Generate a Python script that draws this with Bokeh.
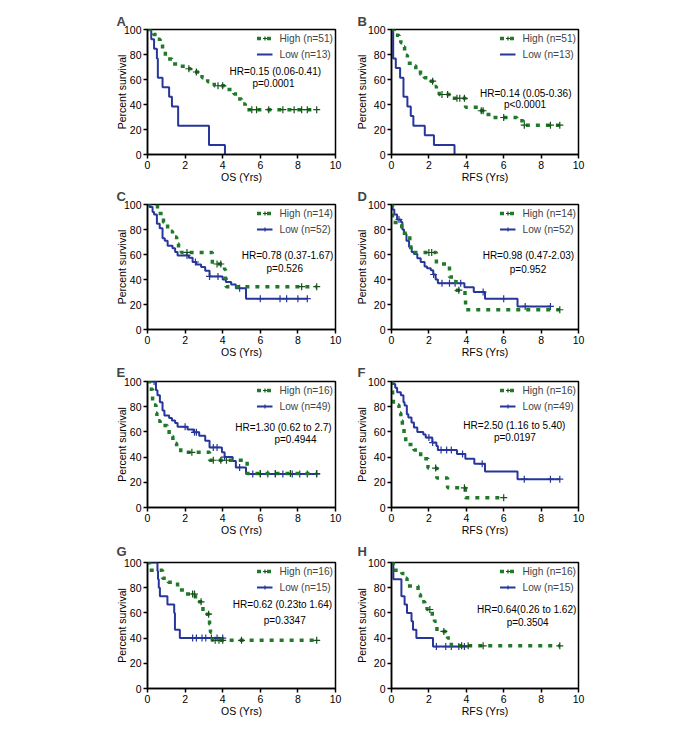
import numpy as np
from bokeh.plotting import figure
from bokeh.models import Range1d, Legend, LegendItem, Label, FixedTicker
from bokeh.layouts import column, row
from bokeh.embed import file_html
from bokeh.resources import INLINE

# ---------------- data ----------------
# Panel A (OS)
A_high_t = [0, 0.32, 0.5, 0.67, 0.8, 0.95, 1.3, 1.75, 2.05, 2.3, 2.9, 3.2, 3.55, 4.1, 4.6, 4.8, 5.0, 5.2]
A_high_s = [100, 96.1, 92.2, 88.2, 82.4, 76.5, 72.5, 70.6, 68.6, 66.0, 61.5, 58.2, 55.0, 52.0, 48.5, 44.5, 40.5, 35.9]
A_high_cens = [2.2, 2.6, 3.75, 4.0, 5.55, 5.8, 6.45, 7.2, 7.8, 8.2, 8.5, 9.0]
A_high_end = 9.0
A_low_t = [0, 0.2, 0.35, 0.5, 0.55, 0.8, 1.15, 1.3, 1.63, 3.27, 4.12]
A_low_s = [100, 92.3, 84.6, 76.9, 61.5, 53.8, 46.2, 38.5, 23.1, 7.7, 0]
A_low_cens = []
A_low_end = 4.12

# Panel B (RFS)
B_high_t = [0, 0.14, 0.4, 0.5, 0.6, 0.7, 0.85, 1.1, 1.3, 1.55, 1.75, 1.95, 2.3, 2.4, 2.55, 3.25, 3.96, 4.7, 5.0, 5.4, 6.7, 7.05]
B_high_s = [100, 95.5, 91.5, 89.4, 86.0, 79.5, 73.0, 71.0, 67.5, 64.0, 61.5, 58.7, 54.5, 50.5, 48.0, 45.0, 37.8, 35.0, 32.0, 29.6, 27.0, 23.5]
B_high_cens = [2.2, 2.7, 3.0, 3.5, 3.65, 3.9, 4.8, 4.9, 6.0, 7.1, 8.5, 9.0]
B_high_end = 9.0
B_low_t = [0, 0.09, 0.23, 0.46, 0.64, 0.85, 1.03, 1.17, 1.78, 2.27, 3.37]
B_low_s = [100, 76.9, 69.2, 61.5, 46.2, 38.5, 30.8, 23.1, 15.4, 7.7, 0]
B_low_cens = []
B_low_end = 3.37

# Panel C (OS)
C_high_t = [0, 0.53, 0.85, 1.07, 1.33, 1.55, 1.65, 1.8, 3.45, 4.1, 4.15, 4.18]
C_high_s = [100, 92.9, 85.7, 78.6, 74.0, 68.6, 64.3, 61.7, 52.4, 48.0, 41.1, 34.3]
C_high_cens = [2.1, 3.7, 3.9, 8.2, 9.0]
C_high_end = 9.0
C_low_t = [0, 0.1, 0.27, 0.35, 0.5, 0.65, 0.8, 0.92, 1.07, 1.33, 1.47, 1.6, 2.2, 2.4, 2.6, 2.85, 3.07, 3.3, 4.0, 4.17, 4.45, 4.7, 5.24]
C_low_s = [100, 98, 94, 92, 84.6, 81, 73, 71, 67, 65, 62, 59.3, 57.4, 54, 52, 50, 47, 42.5, 40, 38, 36, 33, 24.7]
C_low_cens = [2.1, 2.55, 3.3, 3.75, 4.9, 6.0, 7.05, 7.4, 8.0, 8.5]
C_low_end = 8.5

# Panel D (RFS)
D_high_t = [0, 0.05, 0.55, 0.98, 1.03, 2.4, 3.1, 3.45, 3.93, 3.96]
D_high_s = [100, 85.7, 77.0, 69.3, 61.6, 52.4, 42.0, 31.5, 23.3, 15.8]
D_high_cens = [2.0, 2.15, 3.6, 9.0]
D_high_end = 9.0
D_low_t = [0, 0.05, 0.15, 0.3, 0.5, 0.58, 0.67, 0.8, 0.94, 1.08, 1.2, 1.38, 1.56, 1.77, 1.9, 2.1, 2.23, 2.36, 2.48, 3.9, 4.4, 5.0, 6.74]
D_low_s = [100, 96, 92, 88, 86, 80, 76.5, 71, 66, 62, 60.5, 57, 54, 50.5, 49, 47.5, 44, 40, 37, 33.8, 30, 24.6, 18.5]
D_low_cens = [0.4, 2.25, 2.7, 3.1, 3.4, 3.7, 4.9, 6.0, 7.15, 8.5]
D_low_end = 8.5

# Panel E (OS)
E_high_t = [0, 0.1, 0.27, 0.45, 0.5, 0.67, 1.05, 1.15, 1.35, 1.55, 1.77, 3.3, 5.3]
E_high_s = [100, 93.8, 81.3, 75.0, 68.8, 65.0, 62.5, 56.5, 51.0, 47.7, 43.8, 37.5, 27.0]
E_high_cens = [2.36, 3.5, 3.9, 4.2, 6.0, 6.8, 7.6, 9.0]
E_high_end = 9.0
E_low_t = [0, 0.45, 0.53, 0.66, 0.8, 0.9, 1.15, 1.3, 1.47, 1.6, 2.13, 2.45, 2.75, 3.07, 3.3, 3.96, 4.1, 4.53, 4.7, 5.24]
E_low_s = [100, 93, 89, 83.5, 77, 73, 71, 69, 67, 64, 62, 59.7, 57, 53, 47.7, 43.8, 40, 37, 31.8, 26.5]
E_low_cens = [0.35, 2.0, 2.5, 2.6, 3.5, 3.7, 4.1, 4.9, 5.6, 6.0, 6.4, 6.8, 7.2, 7.7, 8.1, 8.5, 9.0]
E_low_end = 9.0

# Panel F (RFS)
F_high_t = [0, 0.03, 0.06, 0.1, 0.4, 0.5, 0.58, 0.67, 0.76, 1.2, 1.56, 1.95, 2.42, 3.0, 3.95]
F_high_s = [100, 93.8, 87.5, 81.3, 75.0, 68.8, 62.5, 56.3, 50.0, 45.6, 38.7, 31.3, 23.4, 15.6, 7.8]
F_high_cens = [2.36, 3.9, 6.0]
F_high_end = 6.0
F_low_t = [0, 0.1, 0.2, 0.3, 0.5, 0.64, 0.7, 0.82, 0.9, 1.07, 1.2, 1.38, 1.7, 1.83, 2.18, 2.4, 2.48, 3.5, 3.95, 4.43, 5.0, 6.74]
F_low_s = [100, 98, 95, 91.5, 89, 83.5, 81, 74, 71.5, 67.5, 63.5, 60, 58, 55.5, 51.5, 48.8, 45.6, 42.5, 38.6, 34.7, 28.6, 22.5]
F_low_cens = [2.0, 2.2, 2.65, 2.95, 3.2, 3.8, 4.85, 7.1, 8.5, 9.0]
F_low_end = 9.0

# Panel G (OS)
G_high_t = [0, 0.1, 0.8, 1.1, 1.6, 1.95, 2.55, 2.95, 3.3, 3.35, 3.45]
G_high_s = [100, 93.8, 87.5, 84.4, 78.1, 75.0, 68.8, 59.0, 51.0, 44.6, 38.2]
G_high_cens = [2.4, 2.5, 2.85, 3.25, 3.6, 3.8, 4.0, 5.0, 9.0]
G_high_end = 9.0
G_low_t = [0, 0.53, 0.56, 0.6, 0.66, 1.06, 1.42, 1.46, 1.72]
G_low_s = [100, 93.3, 86.7, 80.0, 73.3, 66.7, 60.0, 46.7, 40.0]
G_low_cens = [2.4, 2.6, 2.9, 3.1, 3.4, 3.7, 4.0]
G_low_end = 4.05

# Panel H (RFS)
H_high_t = [0, 0.1, 0.55, 0.7, 0.83, 1.42, 1.55, 1.78, 1.9, 2.18, 2.3, 2.43, 3.0, 3.2]
H_high_s = [100, 93.8, 91.2, 87.5, 81.3, 74.7, 68.8, 66.7, 62.7, 57.3, 53.3, 45.3, 40.0, 33.9]
H_high_cens = [2.05, 2.8, 3.75, 4.1, 4.9, 9.0]
H_high_end = 9.0
H_low_t = [0, 0.1, 0.53, 0.7, 0.83, 1.07, 1.15, 1.33, 2.22]
H_low_s = [100, 86.7, 73.3, 66.7, 60.0, 53.3, 46.7, 40.0, 33.3]
H_low_cens = [2.4, 2.9, 3.2, 3.6, 3.9]
H_low_end = 4.05

panel_letters = ["A", "B", "C", "D", "E", "F", "G", "H"]
x_labels = ["OS (Yrs)", "RFS (Yrs)"]
y_label = "Percent survival"
high_labels = ["High (n=51)", "High (n=51)", "High (n=14)", "High (n=14)",
               "High (n=16)", "High (n=16)", "High (n=16)", "High (n=16)"]
low_labels = ["Low (n=13)", "Low (n=13)", "Low (n=52)", "Low (n=52)",
              "Low (n=49)", "Low (n=49)", "Low (n=15)", "Low (n=15)"]
hr_texts = ["HR=0.15 (0.06-0.41)", "HR=0.14 (0.05-0.36)", "HR=0.78 (0.37-1.67)",
            "HR=0.98 (0.47-2.03)", "HR=1.30 (0.62 to 2.7)", "HR=2.50 (1.16 to 5.40)",
            "HR=0.62 (0.23to 1.64)", "HR=0.64(0.26 to 1.62)"]
p_texts = ["p=0.0001", "p<0.0001", "p=0.526", "p=0.952", "p=0.4944", "p=0.0197",
           "p=0.3347", "p=0.3504"]
x_ticks = [0, 2, 4, 6, 8, 10]
y_ticks = [0, 20, 40, 60, 80, 100]

# ---------------- layout / style ----------------
GREEN = "#217a29"
GREEN_DARK = "#17501b"
BLUE = "#27369a"
FONT = "Liberation Sans"
FS = "10.5px"
FS_NOTE = "10px"

# annotation positions (data units): x of HR, y of HR, x of p, y of p
hr_pos = [(6.8, 66.4, 6.7, 56.8), (7.18, 49.2, 7.14, 39.7), (7.45, 59.3, 7.3, 48.7),
          (7.32, 59.5, 7.3, 48.4), (7.23, 63.6, 7.87, 53.6), (6.57, 64.8, 6.6, 55.4),
          (7.18, 66.8, 7.3, 54.1), (7.23, 62.6, 7.28, 52.0)]
# per row: (min_border_top, frame_height, min_border_bottom, title_standoff)
row_geom = [(29, 125, 30, 2), (18, 125, 30, 2), (20, 126, 30, 4), (24, 126, 30, 7)]
# per column: (min_border_left, frame_width, min_border_right, title_offset, ylabel_standoff)
col_geom = [(147, 188, 14, -31, -7), (42, 187, 10, -34, -3)]

datasets = {
    "A": (A_high_t, A_high_s, A_high_cens, A_high_end, A_low_t, A_low_s, A_low_cens, A_low_end),
    "B": (B_high_t, B_high_s, B_high_cens, B_high_end, B_low_t, B_low_s, B_low_cens, B_low_end),
    "C": (C_high_t, C_high_s, C_high_cens, C_high_end, C_low_t, C_low_s, C_low_cens, C_low_end),
    "D": (D_high_t, D_high_s, D_high_cens, D_high_end, D_low_t, D_low_s, D_low_cens, D_low_end),
    "E": (E_high_t, E_high_s, E_high_cens, E_high_end, E_low_t, E_low_s, E_low_cens, E_low_end),
    "F": (F_high_t, F_high_s, F_high_cens, F_high_end, F_low_t, F_low_s, F_low_cens, F_low_end),
    "G": (G_high_t, G_high_s, G_high_cens, G_high_end, G_low_t, G_low_s, G_low_cens, G_low_end),
    "H": (H_high_t, H_high_s, H_high_cens, H_high_end, H_low_t, H_low_s, H_low_cens, H_low_end),
}


def km_curve(p, t, s, cens, end, color, mcolor, dash, width):
    xs = list(t) + [end]
    ys = list(s) + [s[-1]]
    r = p.step(xs, ys, mode="after", line_color=color, line_width=width, line_dash=dash)
    idx = np.searchsorted(np.array(t), np.array(cens, dtype=float), side="right") - 1
    cy = [s[i] for i in idx] if len(cens) else []
    c = p.scatter(list(cens), cy, marker="cross", size=7, line_color=mcolor, line_width=1.2)
    return r, c


def make_panel(i):
    letter = panel_letters[i]
    r_i, c_i = divmod(i, 2)
    top, fh, bottom, tstand = row_geom[r_i]
    left, fw, right, toff, ystand = col_geom[c_i]
    p = figure(frame_width=fw, frame_height=fh, min_border_left=left, min_border_right=right,
               min_border_top=top, min_border_bottom=bottom,
               x_range=Range1d(0, 10), y_range=Range1d(0, 100),
               output_backend="svg", toolbar_location=None, title=letter)
    p.title.align = "left"
    p.title.offset = toff
    p.title.standoff = tstand
    p.title.text_font = FONT
    p.title.text_font_size = "13px"
    p.title.text_font_style = "bold"
    p.grid.visible = False
    p.outline_line_color = "black"
    p.outline_line_width = 1.5
    p.outline_line_alpha = 1
    p.xaxis.ticker = FixedTicker(ticks=x_ticks)
    p.yaxis.ticker = FixedTicker(ticks=y_ticks)
    p.xaxis.axis_label = x_labels[c_i]
    p.yaxis.axis_label = y_label
    for ax in (p.xaxis[0], p.yaxis[0]):
        ax.axis_line_width = 1.5
        ax.axis_line_color = "black"
        ax.major_tick_line_width = 1.5
        ax.major_tick_line_color = "black"
        ax.major_tick_out = 4
        ax.major_tick_in = 0
        ax.minor_tick_line_color = None
        ax.major_label_standoff = 2
        ax.major_label_text_font = FONT
        ax.major_label_text_font_size = FS
        ax.major_label_text_color = "black"
        ax.axis_label_text_font = FONT
        ax.axis_label_text_font_size = FS
        ax.axis_label_text_font_style = "normal"
        ax.axis_label_text_color = "black"
    p.xaxis.axis_label_standoff = -1
    p.yaxis.axis_label_standoff = ystand

    ht, hs, hc, he, lt, ls, lc, le = datasets[letter]
    lr, lcr = km_curve(p, lt, ls, lc, le, BLUE, BLUE, "solid", 2)
    hr, hcr = km_curve(p, ht, hs, hc, he, GREEN, GREEN_DARK, "4 6", 3.5)

    legend = Legend(items=[LegendItem(label=high_labels[i], renderers=[hr, hcr]),
                           LegendItem(label=low_labels[i], renderers=[lr, lcr])],
                    location="top_right", background_fill_alpha=0, border_line_alpha=0,
                    label_text_font=FONT, label_text_font_size="10.2px", glyph_width=16,
                    glyph_height=10, label_standoff=7, label_height=14, spacing=2,
                    padding=0, margin=2)
    p.add_layout(legend)

    hx, hy, px_, py = hr_pos[i]
    for txt, xx, yy in ((hr_texts[i], hx, hy), (p_texts[i], px_, py)):
        p.add_layout(Label(x=xx, y=yy, text=txt, text_align="center", text_baseline="middle",
                           text_font=FONT, text_font_size=FS_NOTE, text_color="black"))
    return p


panels = [make_panel(i) for i in range(8)]
layout = column(*[row(panels[2 * k], panels[2 * k + 1]) for k in range(4)])

open("out.html", "w").write(file_html(layout, INLINE))
